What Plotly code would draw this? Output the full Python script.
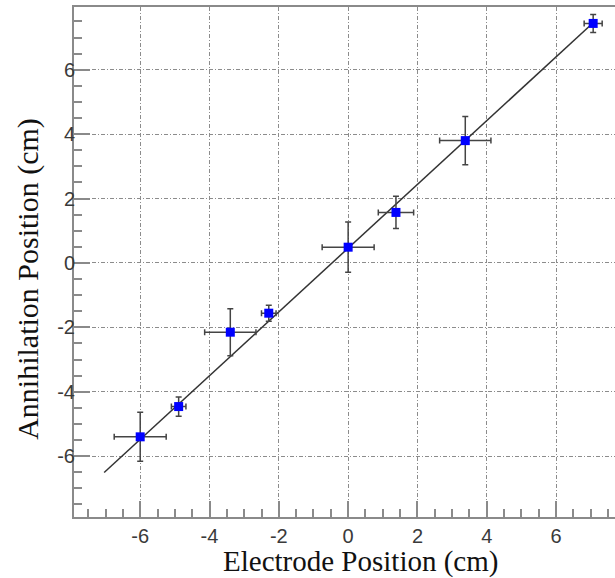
import plotly.graph_objects as go

# Measured positions (cm) with uncertainties
electrode_pos = [-6.0, -4.89, -3.40, -2.29, 0.0, 1.38, 3.38, 7.07]
annihilation_pos = [-5.40, -4.46, -2.15, -1.56, 0.49, 1.57, 3.80, 7.44]
electrode_err = [0.75, 0.21, 0.74, 0.21, 0.75, 0.51, 0.74, 0.26]
annihilation_err = [0.76, 0.30, 0.73, 0.25, 0.78, 0.50, 0.75, 0.28]

# Linear fit y = slope * x + intercept, drawn over this x span
fit_slope = 0.99
fit_intercept = 0.46
fit_x = [-7.04, 7.07]
fit_y = [fit_slope * v + fit_intercept for v in fit_x]

tick_vals = [-6, -4, -2, 0, 2, 4, 6]
tick_text = ["-6", "-4", "-2", "0", "2", "4", "6"]

axis_grey = "#8a8a8a"
tick_font = dict(family="Liberation Sans, Arial, sans-serif", size=20, color="#3a3a3a")
serif = "Liberation Serif, Times New Roman, serif"

fig = go.Figure()

fig.add_trace(go.Scatter(
    x=fit_x, y=fit_y, mode="lines",
    line=dict(color="#333333", width=1.5),
    hoverinfo="skip", showlegend=False,
))

fig.add_trace(go.Scatter(
    x=electrode_pos, y=annihilation_pos, mode="markers",
    marker=dict(symbol="square", size=9, color="#0000ff", line=dict(width=0)),
    error_x=dict(type="data", array=electrode_err, color="#444444", thickness=1.5, width=3),
    error_y=dict(type="data", array=annihilation_err, color="#444444", thickness=1.5, width=3),
    showlegend=False,
))

common_axis = dict(
    showline=True, linecolor=axis_grey, linewidth=2,
    ticks="inside", ticklen=16, tickwidth=1.5, tickcolor=axis_grey,
    tickmode="array", tickvals=tick_vals, ticktext=tick_text,
    tickfont=tick_font,
    showgrid=True, gridcolor="#8c8c8c", gridwidth=1, griddash="4px,2px,1px,2px",
    zeroline=False,
    minor=dict(ticks="inside", ticklen=8, tickwidth=1.5, tickcolor=axis_grey,
               dtick=0.5, tick0=0, showgrid=False),
)

fig.update_xaxes(range=[-7.91, 7.70], mirror=True, **common_axis)
fig.update_yaxes(range=[-7.89, 7.95], mirror=False, ticklabelstandoff=-7, **common_axis)

fig.add_annotation(
    text="Electrode Position (cm)", xref="paper", yref="paper",
    x=0.529, y=-0.088, xanchor="center", yanchor="middle",
    showarrow=False, font=dict(family=serif, size=29, color="#111111"),
)
fig.add_annotation(
    text="Annihilation Position (cm)", xref="paper", yref="paper",
    x=-0.085, y=0.467, xanchor="center", yanchor="middle", textangle=-90,
    showarrow=False, font=dict(family=serif, size=30, color="#111111"),
)

fig.update_layout(
    width=615, height=578,
    margin=dict(l=74, r=0, t=7, b=61),
    paper_bgcolor="white", plot_bgcolor="white",
)

fig.write_html("out.html")
